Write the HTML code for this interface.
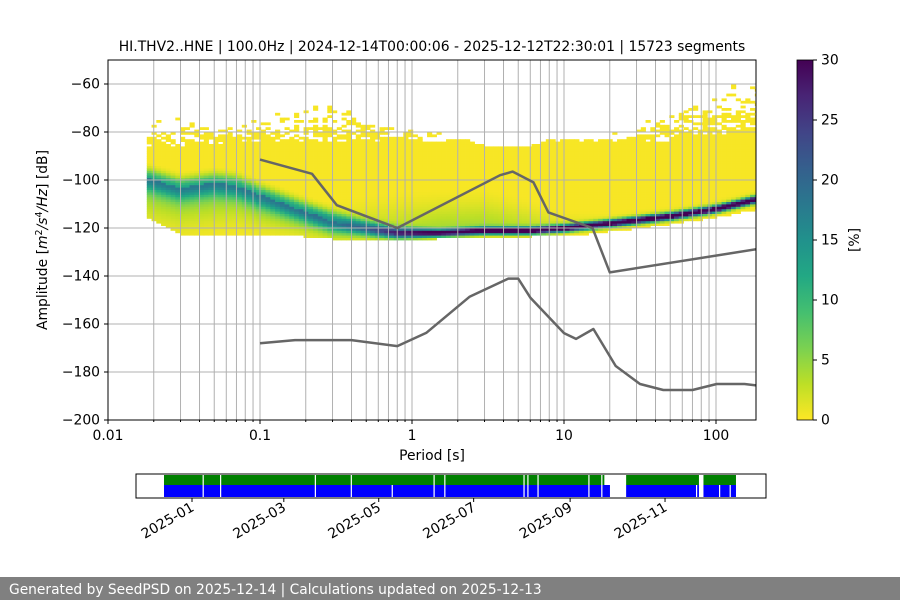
<!DOCTYPE html>
<html><head><meta charset="utf-8"><style>
body{margin:0;background:#fff}
svg{display:block;font-family:"DejaVu Sans","Liberation Sans",sans-serif}
</style></head><body>
<svg id="c" width="900" height="600" viewBox="0 0 900 600">
<defs>
<linearGradient id="vir" x1="0" y1="1" x2="0" y2="0">
<stop offset="0" stop-color="#fde725"/><stop offset="0.1" stop-color="#bddf26"/><stop offset="0.2" stop-color="#7ad151"/><stop offset="0.3" stop-color="#44bf70"/><stop offset="0.4" stop-color="#22a884"/><stop offset="0.5" stop-color="#21918c"/><stop offset="0.6" stop-color="#2a788e"/><stop offset="0.7" stop-color="#355f8d"/><stop offset="0.8" stop-color="#414487"/><stop offset="0.9" stop-color="#482475"/><stop offset="1" stop-color="#440154"/>
</linearGradient>
<clipPath id="pc"><rect x="108" y="60" width="648" height="360"/></clipPath>
</defs>
<text x="432" y="51" font-size="13.9" text-anchor="middle">HI.THV2..HNE | 100.0Hz | 2024-12-14T00:00:06 - 2025-12-12T22:30:01 | 15723 segments</text>
<g id="hist" clip-path="url(#pc)"></g>
<g id="grid"></g>
<g id="models" clip-path="url(#pc)"></g>
<rect x="108" y="60" width="648" height="360" fill="none" stroke="#000" stroke-width="1"/>
<g id="axes" font-size="13.9"></g>
<text x="432" y="460" font-size="13.9" text-anchor="middle">Period [s]</text>
<text transform="translate(47,240) rotate(-90)" font-size="13.9" text-anchor="middle">Amplitude [<tspan font-style="italic">m</tspan><tspan font-size="9.5" dy="-5">2</tspan><tspan dy="5" font-style="italic">/s</tspan><tspan font-size="9.5" dy="-5">4</tspan><tspan dy="5" font-style="italic">/Hz</tspan>] [dB]</text>
<rect x="797" y="60" width="16" height="360" fill="url(#vir)" stroke="#000" stroke-width="0.8"/>
<g id="cbar" font-size="13.9"></g>
<text transform="translate(859,240) rotate(-90)" font-size="13.9" text-anchor="middle">[%]</text>
<g id="tl"></g>
<rect x="0" y="577" width="900" height="23" fill="#808080"/>
<text x="9" y="594" font-size="13.8" fill="#fff">Generated by SeedPSD on 2025-12-14 | Calculations updated on 2025-12-13</text>
</svg>
<script>
const NS="http://www.w3.org/2000/svg";
// histogram model data
const hPeriods=[0.018,0.03,0.05,0.07,0.1,0.2,0.3,0.5,0.8,1.5,3,6,10,20,50,100,183];
const hMode=[-99,-103,-101,-102,-106,-113,-117,-120,-122,-122,-121,-121,-120,-118,-115,-112,-108];
const hPeak=[12,12,12,12,12,13,14,18,26,30,35,35,35,35,35,35,35];
const hSigUp=[2.5,2.5,2.5,2.5,2.5,2.5,2.5,2,1.5,1,1,1,1,1,1,1,1];
const hSigDown=[3.5,3.5,3.5,3.5,3.5,3,3,2,1.5,1,1,1,1,1,1,1,1];
const hLowTail=[6,6,6,6,6,6,5,3,2,2,1,1,1,1,1,1,1];
const hLowSig=[10,10,10,9,8,6,5,3,2,2,2,2,2,2,2,2,2];
const hTail=[0,0,0,0,0,0,1,2,3,4,4,3,1.5,1,1,1,1];
const hTailSig=[1,1,1,1,1,1,5,7,8,8,8,6,4,3,3,3,3];
const hBodyTop=[-86,-86,-85,-84,-84,-84,-84,-84,-84,-84,-83,-83,-84,-84,-84,-81,-79];
const hBodyBottom=[-115,-122,-123,-123,-123,-123,-124,-125,-125,-124,-124,-123,-123,-121,-118,-115,-112];
const hScatterTop=[-72,-73,-78,-76,-74,-68,-66,-70,-78,-80,-86,-86,-82,-80,-70,-62,-56];
// noise models
const nhnmP=[0.1,0.22,0.32,0.8,3.8,4.6,6.3,7.9,15.4,20,354.8];
const nhnmDb=[-91.5,-97.4,-110.5,-120,-98,-96.5,-101,-113.5,-120,-138.5,-126];
const nlnmP=[0.1,0.17,0.4,0.8,1.24,2.4,4.3,5,6,10,12,15.6,21.9,31.6,45,70,101,154,328];
const nlnmDb=[-168,-166.7,-166.7,-169.2,-163.7,-148.6,-141.1,-141.1,-149,-163.8,-166.2,-162.1,-177.5,-185,-187.5,-187.5,-185,-185,-187.5];
// ticks
const xTickVals=[0.01,0.1,1,10,100];
const xTickLabels=["0.01","0.1","1","10","100"];
const yTickVals=[-60,-80,-100,-120,-140,-160,-180,-200];
const cbTicks=[0,5,10,15,20,25,30];
// timeline (days since 2024-12-14)
const greenSegs=[[0,283],[297,343.8],[346.7,367.6]];
const blueSegs=[[0,286.6],[297,343.8],[346.7,367.6]];
const bothGaps=[24.8,36,96.9,120,173.2,180.1,231,233.5,240,272.7,281];
const blueGaps=[146.3,341.9,356.7,363.5];
const dateTicks=[18,77,138,199,261,322];
const dateLabels=["2025-01","2025-03","2025-05","2025-07","2025-09","2025-11"];

const X=p=>108+152*(Math.log10(p)+2);
const Y=db=>420-(db+200)*2.4;
const T=d=>164+d*1.556;
function mk(tag,at,parent){const e=document.createElementNS(NS,tag);for(const k in at)e.setAttribute(k,at[k]);parent.appendChild(e);return e;}
function interp(p,arr){const lp=Math.log10(p);const L=hPeriods.map(Math.log10);
 if(lp<=L[0])return arr[0];for(let i=1;i<L.length;i++){if(lp<=L[i]){const f=(lp-L[i-1])/(L[i]-L[i-1]);return arr[i-1]+f*(arr[i]-arr[i-1]);}}return arr[arr.length-1];}
const vs=["#440154","#482475","#414487","#355f8d","#2a788e","#21918c","#22a884","#44bf70","#7ad151","#bddf26","#fde725"];
function hx(c){return [1,3,5].map(i=>parseInt(c.substr(i,2),16));}
function vir(t){t=Math.max(0,Math.min(1,t));const s=t*10,i=Math.min(9,Math.floor(s)),f=s-i;const a=hx(vs[i]),b=hx(vs[i+1]);return "rgb("+a.map((v,k)=>Math.round(v+f*(b[k]-v))).join(",")+")";}
// histogram
const hist=document.getElementById('hist');
const step=1/32;
for(let lp=Math.log10(hPeriods[0]);lp<2.3;lp+=step){
 const p=Math.pow(10,lp+step/2),ci=Math.round(lp*32);
 const mode=interp(p,hMode),pk=interp(p,hPeak),su=interp(p,hSigUp),sd=interp(p,hSigDown),ta=interp(p,hTail),ts=interp(p,hTailSig);
 const la=interp(p,hLowTail),ls=interp(p,hLowSig);
 const bt=interp(p,hBodyTop),bb=interp(p,hBodyBottom),st=interp(p,hScatterTop);
 const x0=X(Math.pow(10,lp)),x1=X(Math.pow(10,lp+step));
 for(let db=Math.floor(bb);db<st;db++){
  const c=db+0.5,d=c-mode;const sg=d>0?su:sd;
  let v=pk*Math.exp(-0.5*(d/sg)*(d/sg));
  if(d>0)v+=ta*Math.exp(-0.5*(d/ts)*(d/ts));
  else v+=la*Math.exp(-0.5*(d/ls)*(d/ls));
  if(c>bt){const h=(((ci*73856093)^(db*19349663))>>>0)%100;const prob=100*0.75*(1-(c-bt)/(st-bt));if(h>=prob)continue;v=Math.max(v,0.3);}
  else if(v<0.3)v=0.3;
  const r=mk('rect',{x:x0.toFixed(2),y:Y(db+1).toFixed(2),width:(x1-x0+0.4).toFixed(2),height:2.8,fill:vir(1-Math.min(v,30)/30)},hist);
  
  
 }
}
// grid
const grid=document.getElementById('grid');
for(let e=-2;e<=2;e++)for(let m=1;m<=9;m++){const p=m*Math.pow(10,e);const x=X(p);if(x>756)continue;
 const l=mk('line',{x1:x,x2:x,y1:60,y2:420,stroke:"#b0b0b0","stroke-width":1},grid);
 }
yTickVals.forEach(v=>{const l=mk('line',{x1:108,x2:756,y1:Y(v),y2:Y(v),stroke:"#b0b0b0","stroke-width":1},grid);
 });
// models
const models=document.getElementById('models');
function line(P,D,name){const pl=mk('polyline',{points:P.map((p,i)=>X(p).toFixed(1)+","+Y(D[i]).toFixed(1)).join(" "),fill:"none",stroke:"#666666","stroke-width":2.5,"stroke-linejoin":"round"},models);
 }
line(nhnmP,nhnmDb,'nhnm-line');line(nlnmP,nlnmDb,'nlnm-line');
// axes
const axes=document.getElementById('axes');
xTickVals.forEach((v,i)=>{mk('line',{x1:X(v),x2:X(v),y1:420,y2:424,stroke:"#000"},axes);
 const t=mk('text',{x:X(v),y:440,"text-anchor":"middle"},axes);t.textContent=xTickLabels[i];
 });
for(let e=-2;e<=2;e++)for(let m=2;m<=9;m++){const x=X(m*Math.pow(10,e));if(x<756)mk('line',{x1:x,x2:x,y1:420,y2:422,stroke:"#000"},axes);}
yTickVals.forEach(v=>{mk('line',{x1:104,x2:108,y1:Y(v),y2:Y(v),stroke:"#000"},axes);
 const t=mk('text',{x:100,y:Y(v)+4.5,"text-anchor":"end"},axes);t.textContent="\u2212"+Math.abs(v);
 });
// colorbar
const cb=document.getElementById('cbar');
cbTicks.forEach(v=>{const y=420-v*12;mk('line',{x1:813,x2:817,y1:y,y2:y,stroke:"#000"},cb);
 const t=mk('text',{x:821,y:y+4.5},cb);t.textContent=v;
 });
// timeline
const tl=document.getElementById('tl');
greenSegs.forEach(s=>{const r=mk('rect',{x:T(s[0]),y:475,width:T(s[1])-T(s[0]),height:10,fill:"#008000"},tl);});
blueSegs.forEach(s=>{const r=mk('rect',{x:T(s[0]),y:485,width:T(s[1])-T(s[0]),height:12,fill:"#0000ff"},tl);});
bothGaps.forEach(d=>{const r=mk('rect',{x:T(d),y:475,width:1.2,height:22,fill:"#fff"},tl);});
blueGaps.forEach(d=>{const r=mk('rect',{x:T(d),y:485,width:1.2,height:12,fill:"#fff"},tl);});
mk('rect',{x:136,y:474,width:630,height:24,fill:"none",stroke:"#000","stroke-width":1},tl);
dateTicks.forEach((d,i)=>{const x=T(d);mk('line',{x1:x,x2:x,y1:498,y2:502,stroke:"#000"},tl);
 const t=mk('text',{transform:"translate("+(x+3)+",510) rotate(-30)","text-anchor":"end","font-size":13.9},tl);t.textContent=dateLabels[i];
 });
</script>
</body></html>
